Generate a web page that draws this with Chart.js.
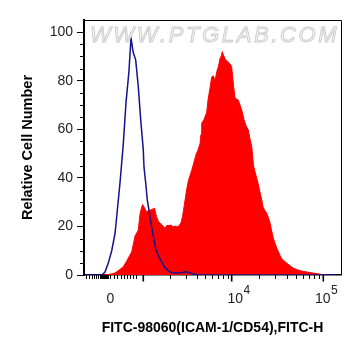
<!DOCTYPE html>
<html>
<head>
<meta charset="utf-8">
<script src="https://cdn.jsdelivr.net/npm/chart.js@4/dist/chart.umd.min.js"></script>
<style>
  html, body { margin: 0; padding: 0; background: #fff; }
  #wrap { width: 361px; height: 356px; }
</style>
</head>
<body>
<div id="wrap"><canvas id="c" width="361" height="356"></canvas></div>
<script>
// ---- data (x = display channel on the biexponential axis, y = relative cell number) ----
const sampleChannels = [19, 26, 31, 35, 39.3, 43, 47.7, 51, 54.3, 56, 57.7, 58.7, 60, 62.5, 65, 68, 70.5, 72.5, 74.5, 76, 78, 81, 83, 85, 87, 89, 91, 93, 95, 97, 98.5, 100, 101.5, 103, 104.5, 106, 108, 110, 112, 114, 116, 117, 117.7, 120, 122.7, 124, 126, 127.7, 129.3, 131, 133, 134.5, 136, 137.5, 138.3, 139, 141, 142, 144.3, 146, 147.7, 149.5, 151, 152.5, 154.3, 156, 157.7, 158, 160, 162, 164.3, 166, 167.7, 169.5, 171, 172.7, 174.5, 176, 177.7, 179, 181, 182.7, 184.5, 186, 187.5, 189, 191, 192.7, 194.5, 196, 197.7, 200, 202.7, 206, 209, 213, 218, 223, 229, 234, 239, 242];
const sampleCounts   = [0, 0.3, 0.8, 2, 3.4, 6, 9.5, 16, 18.5, 25, 28, 29, 28, 26, 26.5, 27, 27.5, 24, 22, 21.4, 20.5, 19.3, 20.5, 20.3, 20.6, 19.8, 20.2, 19.8, 20.3, 21.5, 24, 28, 32, 36, 39, 41, 43.5, 46.5, 49.5, 51.5, 54, 58, 62.5, 64, 67, 72, 77, 81.5, 82, 80, 84, 86, 89, 90.5, 92, 91, 89, 88.5, 87.6, 87, 85.6, 78, 73, 72.5, 72, 70, 68, 67.5, 64, 61.5, 59.7, 56, 53, 45, 42.5, 40, 37, 34, 31, 28, 26.5, 25.5, 23.5, 21.5, 18.5, 15.6, 13, 11.2, 9.5, 8, 6.8, 5.8, 4.9, 3.8, 2.9, 2.2, 1.6, 1.2, 0.8, 0.5, 0.1, 0];

const controlChannels = [2, 14, 17.7, 21, 24.3, 27.7, 31, 32.7, 36, 38.7, 39.3, 42, 45, 46, 47, 48, 49, 51.7, 54.3, 56.7, 59.3, 60, 61.7, 63.3, 66, 68.7, 72, 76, 81, 86, 91, 97, 102.7, 109, 116, 252];
const controlCounts   = [0, 0, 0, 1.2, 4.9, 10, 17, 24, 38, 51, 54, 71, 84, 91, 97.5, 95, 92, 88.5, 77.5, 64, 51.4, 44.4, 37.9, 30.9, 24, 17, 10.3, 6.5, 3, 1.2, 0.8, 0.9, 1.3, 0.4, 0, 0];

// ---- axes ----
const xMin = 0, xMax = 257;
const yMin = 0, yMax = 105;
const yTickValues = [0, 20, 40, 60, 80, 100];
const yTickLabels = ['0', '20', '40', '60', '80', '100'];
const yMinorTicks = [5, 10, 15, 25, 30, 35, 45, 50, 55, 65, 70, 75, 85, 90, 95];
const xMajorTicks = [59.3, 147.7, 239.3];               // 10^3, 10^4, 10^5
const xMinorTicks = [2, 5, 7.5, 10, 12, 14, 15.5, 17, 18, 19, 20, 21, 22, 23, 24, 26, 29.5, 33, 36.5, 40, 43, 46, 49, 51.5,
                     86, 101.5, 112.5, 121, 128, 134, 139, 143.5,
                     175.3, 191.4, 202.8, 211.7, 219, 225.1, 230.4, 235.1];
const xTickLabelBases = ['0', '10', '10'];
const xTickLabelExps  = ['', '4', '5'];
const xTickLabelCenters = [26.3, 154.8, 242.3];

const xTitle = 'FITC-98060(ICAM-1/CD54),FITC-H';
const yTitle = 'Relative Cell Number';
const watermark = 'WWW.PTGLAB.COM';

const FONT = '"Liberation Sans", Arial, sans-serif';

const decorations = {
  id: 'decorations',
  afterDatasetsDraw(chart) {
    const ctx = chart.ctx;
    ctx.save();
    ctx.font = 'italic 22px ' + FONT;
    ctx.textBaseline = 'alphabetic';
    ctx.fillStyle = '#f8f8f8';
    ctx.strokeStyle = '#cacaca';
    ctx.lineWidth = 0.9;
    let x = 90;
    for (const ch of watermark) {
      ctx.fillText(ch, x, 42);
      ctx.strokeText(ch, x, 42);
      x += ctx.measureText(ch).width + 2.6;
    }
    ctx.restore();
  },
  afterDraw(chart) {
    const ctx = chart.ctx;
    const xs = chart.scales.x, ys = chart.scales.y;
    const a = chart.chartArea;
    ctx.save();
    ctx.strokeStyle = '#000';
    // top and right frame
    ctx.lineWidth = 1;
    ctx.beginPath();
    ctx.moveTo(a.left, a.top + 0.5);
    ctx.lineTo(a.right + 0.5, a.top + 0.5);
    ctx.lineTo(a.right + 0.5, a.bottom);
    ctx.stroke();
    // y minor ticks
    ctx.beginPath();
    yMinorTicks.forEach(v => {
      const y = Math.round(ys.getPixelForValue(v)) + 0.5;
      ctx.moveTo(a.left - 4, y);
      ctx.lineTo(a.left, y);
    });
    ctx.stroke();
    // x minor ticks
    ctx.beginPath();
    xMinorTicks.forEach(c => {
      const x = Math.round(xs.getPixelForValue(c)) + 0.5;
      ctx.moveTo(x, a.bottom);
      ctx.lineTo(x, a.bottom + 4);
    });
    ctx.stroke();
    // x major ticks
    ctx.lineWidth = 1.6;
    ctx.beginPath();
    xMajorTicks.forEach(c => {
      const x = xs.getPixelForValue(c);
      ctx.moveTo(x, a.bottom);
      ctx.lineTo(x, a.bottom + 6.5);
    });
    ctx.stroke();
    // x tick labels
    ctx.fillStyle = '#222';
    ctx.textAlign = 'left';
    ctx.textBaseline = 'alphabetic';
    xTickLabelBases.forEach((base, i) => {
      const exp = xTickLabelExps[i];
      ctx.font = '14px ' + FONT;
      const w1 = ctx.measureText(base).width;
      ctx.font = '12px ' + FONT;
      const w2 = exp ? ctx.measureText(exp).width + 0.5 : 0;
      const cx = xs.getPixelForValue(xTickLabelCenters[i]);
      const x0 = cx - (w1 + w2) / 2;
      ctx.font = '14px ' + FONT;
      ctx.fillText(base, x0, 303);
      if (exp) {
        ctx.font = '12px ' + FONT;
        ctx.fillText(exp, x0 + w1 + 0.5, 293.5);
      }
    });
    ctx.restore();
  }
};

new Chart(document.getElementById('c'), {
  type: 'line',
  data: {
    datasets: [
      {
        label: 'Control',
        data: controlChannels.map((c, i) => ({ x: c, y: controlCounts[i] })),
        borderColor: '#12128e',
        borderWidth: 1.5,
        fill: false,
        pointRadius: 0,
        tension: 0
      },
      {
        label: 'FITC-98060',
        data: sampleChannels.map((c, i) => ({ x: c, y: sampleCounts[i] })),
        borderColor: '#ff0000',
        backgroundColor: '#ff0000',
        borderWidth: 1,
        fill: 'origin',
        pointRadius: 0,
        tension: 0
      }
    ]
  },
  options: {
    responsive: false,
    animation: false,
    devicePixelRatio: 1,
    layout: { padding: { top: 20, right: 20, left: 0, bottom: 0 } },
    plugins: { legend: { display: false }, tooltip: { enabled: false } },
    scales: {
      x: {
        type: 'linear',
        min: xMin, max: xMax,
        afterFit(s) { s.height = 81; },
        grid: { display: false },
        ticks: { display: false },
        border: { display: true, color: '#000', width: 1.5 },
        title: {
          display: true, text: xTitle, color: '#000',
          font: { family: FONT, size: 14, weight: 'bold' },
          padding: { top: 0, bottom: 19.6 }
        }
      },
      y: {
        type: 'linear',
        min: yMin, max: yMax,
        afterFit(s) { s.width = 84; },
        afterBuildTicks(s) { s.ticks = yTickValues.map(v => ({ value: v })); },
        ticks: {
          color: '#222', padding: 4,
          font: { family: FONT, size: 14 },
          callback: (v) => { const i = yTickValues.indexOf(v); return i >= 0 ? yTickLabels[i] : ''; }
        },
        grid: { display: true, drawOnChartArea: false, drawTicks: true, tickLength: 7, color: '#000', lineWidth: 1 },
        border: { display: true, color: '#000', width: 2 },
        title: {
          display: true, text: yTitle, color: '#000',
          font: { family: FONT, size: 14.5, weight: 'bold' },
          padding: { top: 19, bottom: 0 }
        }
      }
    }
  },
  plugins: [decorations]
});
</script>
</body>
</html>
